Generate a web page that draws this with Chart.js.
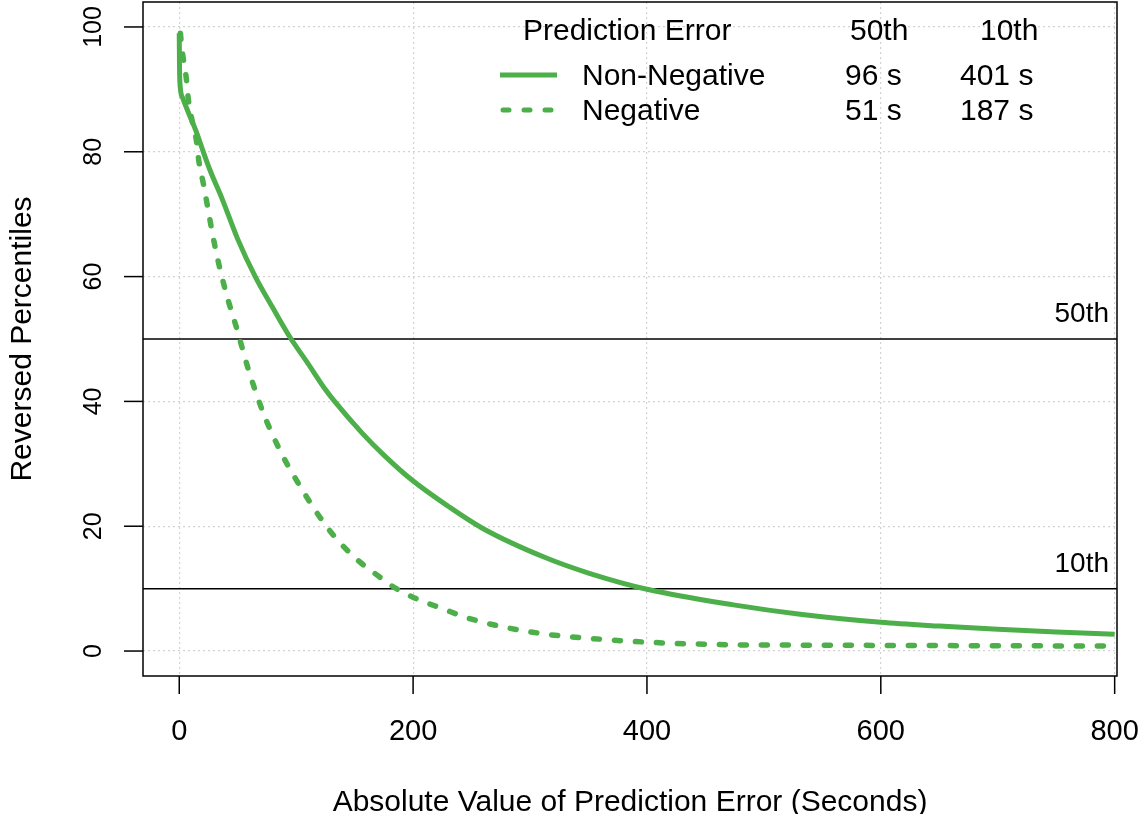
<!DOCTYPE html>
<html>
<head>
<meta charset="utf-8">
<script src="https://cdn.jsdelivr.net/npm/chart.js@4"></script>
<style>
  body { margin: 0; background: #fff; }
  #wrap { width: 1139px; height: 814px; }
</style>
</head>
<body>
<div id="wrap"><canvas id="errChart" width="1139" height="814"></canvas></div>
<script>
// data
const nonNegErr = [0, 0.2, 0.8, 3, 8, 15, 20, 26, 37, 50, 65, 80, 95, 110, 125, 132, 157, 175, 199, 230, 260, 314, 350, 400, 474, 531, 600, 650, 700, 750, 800];
const nonNegPct = [99, 94, 90.5, 88.6, 86.2, 83, 80.3, 77.2, 72.3, 66, 60, 55, 50.2, 46.1, 41.9, 40.2, 34.8, 31.4, 27.4, 23.2, 19.6, 14.9, 12.5, 9.9, 7.4, 5.9, 4.6, 4.0, 3.5, 3.05, 2.7];

const negErr = [1, 2, 3.4, 6, 7.7, 11, 14.5, 17, 20.5, 30.8, 39.3, 49.6, 59, 72, 86, 97, 127, 150, 169, 183, 199, 225, 250, 306, 360, 414, 474, 525, 600, 700, 800];
const negPct = [99, 97, 95, 91.8, 88.5, 85, 82, 78.2, 75, 64.6, 57.9, 51.4, 45.2, 38.1, 32.2, 28.4, 19.7, 15, 12.2, 10.3, 8.7, 6.8, 5.1, 2.9, 1.9, 1.3, 1.0, 0.95, 0.9, 0.85, 0.8];

const refLevels = [50, 10];
const refLabels = ['50th', '10th'];

const xTicks = [0, 200, 400, 600, 800];
const yTicks = [0, 20, 40, 60, 80, 100];

const legendHeader = ['Prediction Error', '50th', '10th'];
const legendRows = [
    ['Non-Negative', '96 s', '401 s'],
    ['Negative', '51 s', '187 s']
];

const GREEN = '#4daf4a';
const FONT = '"Liberation Sans", Arial, sans-serif';

function toPoints(xs, ys) {
    return xs.map((x, i) => ({ x: x, y: ys[i] }));
}

// box, ticks, labels, reference line text and legend
const decorPlugin = {
    id: 'decor',
    afterDraw(chart) {
        const ctx = chart.ctx;
        const a = chart.chartArea;
        const xs = chart.scales.x;
        const ys = chart.scales.y;

        ctx.save();
        ctx.strokeStyle = '#000';
        ctx.lineWidth = 1.5;
        ctx.strokeRect(a.left, a.top, a.right - a.left, a.bottom - a.top);

        ctx.fillStyle = '#000';
        // x ticks
        ctx.font = '29px ' + FONT;
        ctx.textAlign = 'center';
        ctx.textBaseline = 'alphabetic';
        xs.ticks.forEach(t => {
            const px = xs.getPixelForValue(t.value);
            ctx.beginPath();
            ctx.moveTo(px, a.bottom);
            ctx.lineTo(px, a.bottom + 18);
            ctx.stroke();
            ctx.fillText(String(t.value), px, 740);
        });
        // y ticks (rotated labels like base R)
        ctx.font = '25px ' + FONT;
        ys.ticks.forEach(t => {
            const py = ys.getPixelForValue(t.value);
            ctx.beginPath();
            ctx.moveTo(a.left, py);
            ctx.lineTo(a.left - 19, py);
            ctx.stroke();
            ctx.save();
            ctx.translate(101, py);
            ctx.rotate(-Math.PI / 2);
            ctx.fillText(String(t.value), 0, 0);
            ctx.restore();
        });

        // axis titles
        ctx.font = '30px ' + FONT;
        ctx.fillText('Absolute Value of Prediction Error (Seconds)', (a.left + a.right) / 2, 811);
        ctx.save();
        ctx.translate(31, (a.top + a.bottom) / 2);
        ctx.rotate(-Math.PI / 2);
        ctx.fillText('Reversed Percentiles', 0, 0);
        ctx.restore();

        // labels above the reference lines
        ctx.textAlign = 'right';
        ctx.font = '28px ' + FONT;
        refLevels.forEach((lv, i) => {
            ctx.fillText(refLabels[i], 1109, ys.getPixelForValue(lv) - 17);
        });

        // legend
        ctx.font = '30px ' + FONT;
        ctx.textAlign = 'left';
        ctx.fillText(legendHeader[0], 523, 40);
        ctx.fillText(legendHeader[1], 850, 40);
        ctx.fillText(legendHeader[2], 980, 40);
        const rowY = [85, 120];
        legendRows.forEach((row, i) => {
            ctx.fillText(row[0], 582, rowY[i]);
            ctx.fillText(row[1], 845, rowY[i]);
            ctx.fillText(row[2], 960, rowY[i]);
            const ly = rowY[i] - 10;
            ctx.strokeStyle = GREEN;
            ctx.lineWidth = 5;
            ctx.lineCap = i === 0 ? 'butt' : 'round';
            ctx.setLineDash(i === 0 ? [] : [6, 15]);
            ctx.beginPath();
            ctx.moveTo(i === 0 ? 500 : 503, ly);
            ctx.lineTo(557, ly);
            ctx.stroke();
        });
        ctx.restore();
    }
};

const ctx = document.getElementById('errChart').getContext('2d');
const chart = new Chart(ctx, {
    type: 'scatter',
    data: {
        datasets: [
            {
                label: 'Non-Negative',
                data: toPoints(nonNegErr, nonNegPct),
                showLine: true,
                borderColor: GREEN,
                borderWidth: 5,
                pointRadius: 0,
                cubicInterpolationMode: 'monotone'
            },
            {
                label: 'Negative',
                data: toPoints(negErr, negPct),
                showLine: true,
                borderColor: GREEN,
                borderWidth: 5.5,
                borderDash: [6, 15],
                borderCapStyle: 'round',
                pointRadius: 0,
                cubicInterpolationMode: 'monotone'
            },
            ...refLevels.map(lv => ({
                label: 'ref ' + lv,
                data: [{ x: -31, y: lv }, { x: 802, y: lv }],
                showLine: true,
                borderColor: '#000',
                borderWidth: 1.5,
                pointRadius: 0
            }))
        ]
    },
    options: {
        responsive: false,
        animation: false,
        layout: { padding: { left: 143, right: 22, top: 2, bottom: 138 } },
        plugins: {
            legend: { display: false },
            tooltip: { enabled: false }
        },
        scales: {
            x: {
                type: 'linear',
                min: -31,
                max: 802,
                afterBuildTicks: s => { s.ticks = xTicks.map(v => ({ value: v })); },
                ticks: { display: false },
                grid: { color: '#d3d3d3', lineWidth: 1.2, drawTicks: false },
                border: { display: false, dash: [2, 3] }
            },
            y: {
                type: 'linear',
                min: -4,
                max: 104,
                afterBuildTicks: s => { s.ticks = yTicks.map(v => ({ value: v })); },
                ticks: { display: false },
                grid: { color: '#d3d3d3', lineWidth: 1.2, drawTicks: false },
                border: { display: false, dash: [2, 3] }
            }
        }
    },
    plugins: [decorPlugin]
});
</script>
</body>
</html>
